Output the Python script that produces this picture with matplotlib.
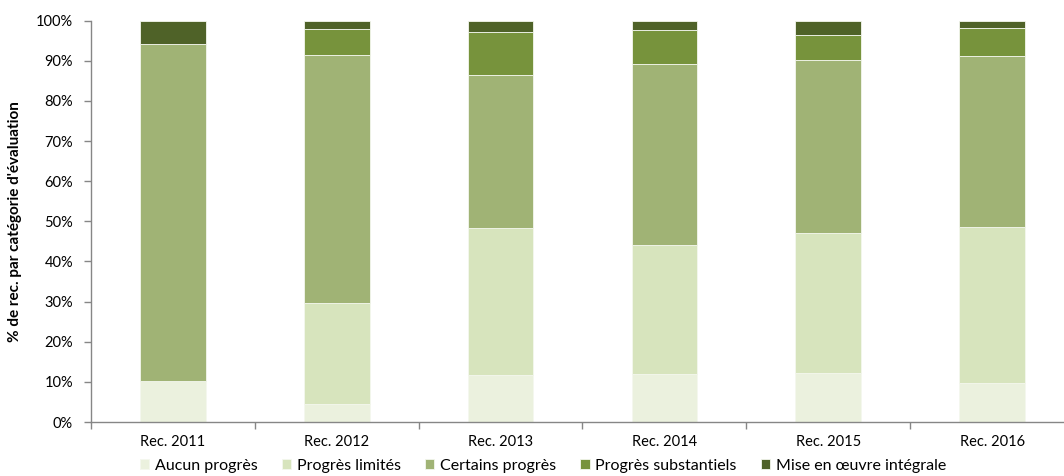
import numpy as np
import matplotlib.pyplot as plt
from matplotlib.ticker import FixedLocator, PercentFormatter

plt.rcParams['font.family'] = ['Lato', 'DejaVu Sans']

# data (% of recommendations per category)
categories = ['Rec. 2011', 'Rec. 2012', 'Rec. 2013', 'Rec. 2014', 'Rec. 2015', 'Rec. 2016']
aucun = [10.3, 4.4, 11.6, 12.0, 12.1, 9.6]
limites = [0.0, 25.3, 36.7, 32.1, 35.1, 38.9]
certains = [83.8, 61.8, 38.1, 45.1, 43.0, 42.7]
substantiels = [0.0, 6.5, 10.7, 8.5, 6.2, 7.0]
integrale = [5.9, 2.0, 2.9, 2.3, 3.6, 1.8]

series = [
    ('Aucun progrès', aucun, '#EBF1DE'),
    ('Progrès limités', limites, '#D7E4BD'),
    ('Certains progrès', certains, '#A0B375'),
    ('Progrès substantiels', substantiels, '#77933C'),
    ('Mise en œuvre intégrale', integrale, '#4F6228'),
]

fig = plt.figure(figsize=(10.64, 4.76), dpi=100)
ax = fig.add_axes([91/1064, 54/476, 983/1064, 401.3/476])

x = np.arange(len(categories))
bottom = np.zeros(len(categories))
for name, vals, col in series:
    vals = np.array(vals)
    ax.bar(x, vals, 0.4, bottom=bottom, color=col, label=name,
           edgecolor='#F4F7EE', linewidth=0.6)
    bottom += vals

ax.set_xlim(-0.5, len(categories) - 0.5)
ax.set_ylim(0, 100)
ax.yaxis.set_major_locator(FixedLocator(np.arange(0, 101, 10)))
ax.yaxis.set_major_formatter(PercentFormatter(decimals=0))

ax.set_xticks(x)
ax.set_xticklabels(categories)
ax.xaxis.set_minor_locator(FixedLocator(np.arange(-0.5, len(categories), 1.0)))
ax.tick_params(axis='x', which='major', length=0, pad=9, labelsize=10.5)
ax.tick_params(axis='x', which='minor', length=5, color='#868686', width=1)
ax.tick_params(axis='y', length=5, color='#868686', width=1, labelsize=10.5, pad=8)

for s in ['top', 'right']:
    ax.spines[s].set_visible(False)
for s in ['left', 'bottom']:
    ax.spines[s].set_color('#868686')
    ax.spines[s].set_linewidth(1)

ax.set_ylabel("% de rec. par catégorie d'évaluation", fontweight='bold', fontsize=11, labelpad=10)

fig.legend(loc='center', bbox_to_anchor=(543/1064, 10/476), ncol=5, frameon=False,
           fontsize=11.5, handlelength=0.6, handleheight=0.6, handletextpad=0.35,
           columnspacing=1.5, borderpad=0)

plt.savefig('out.png', dpi=100)
plt.close()
